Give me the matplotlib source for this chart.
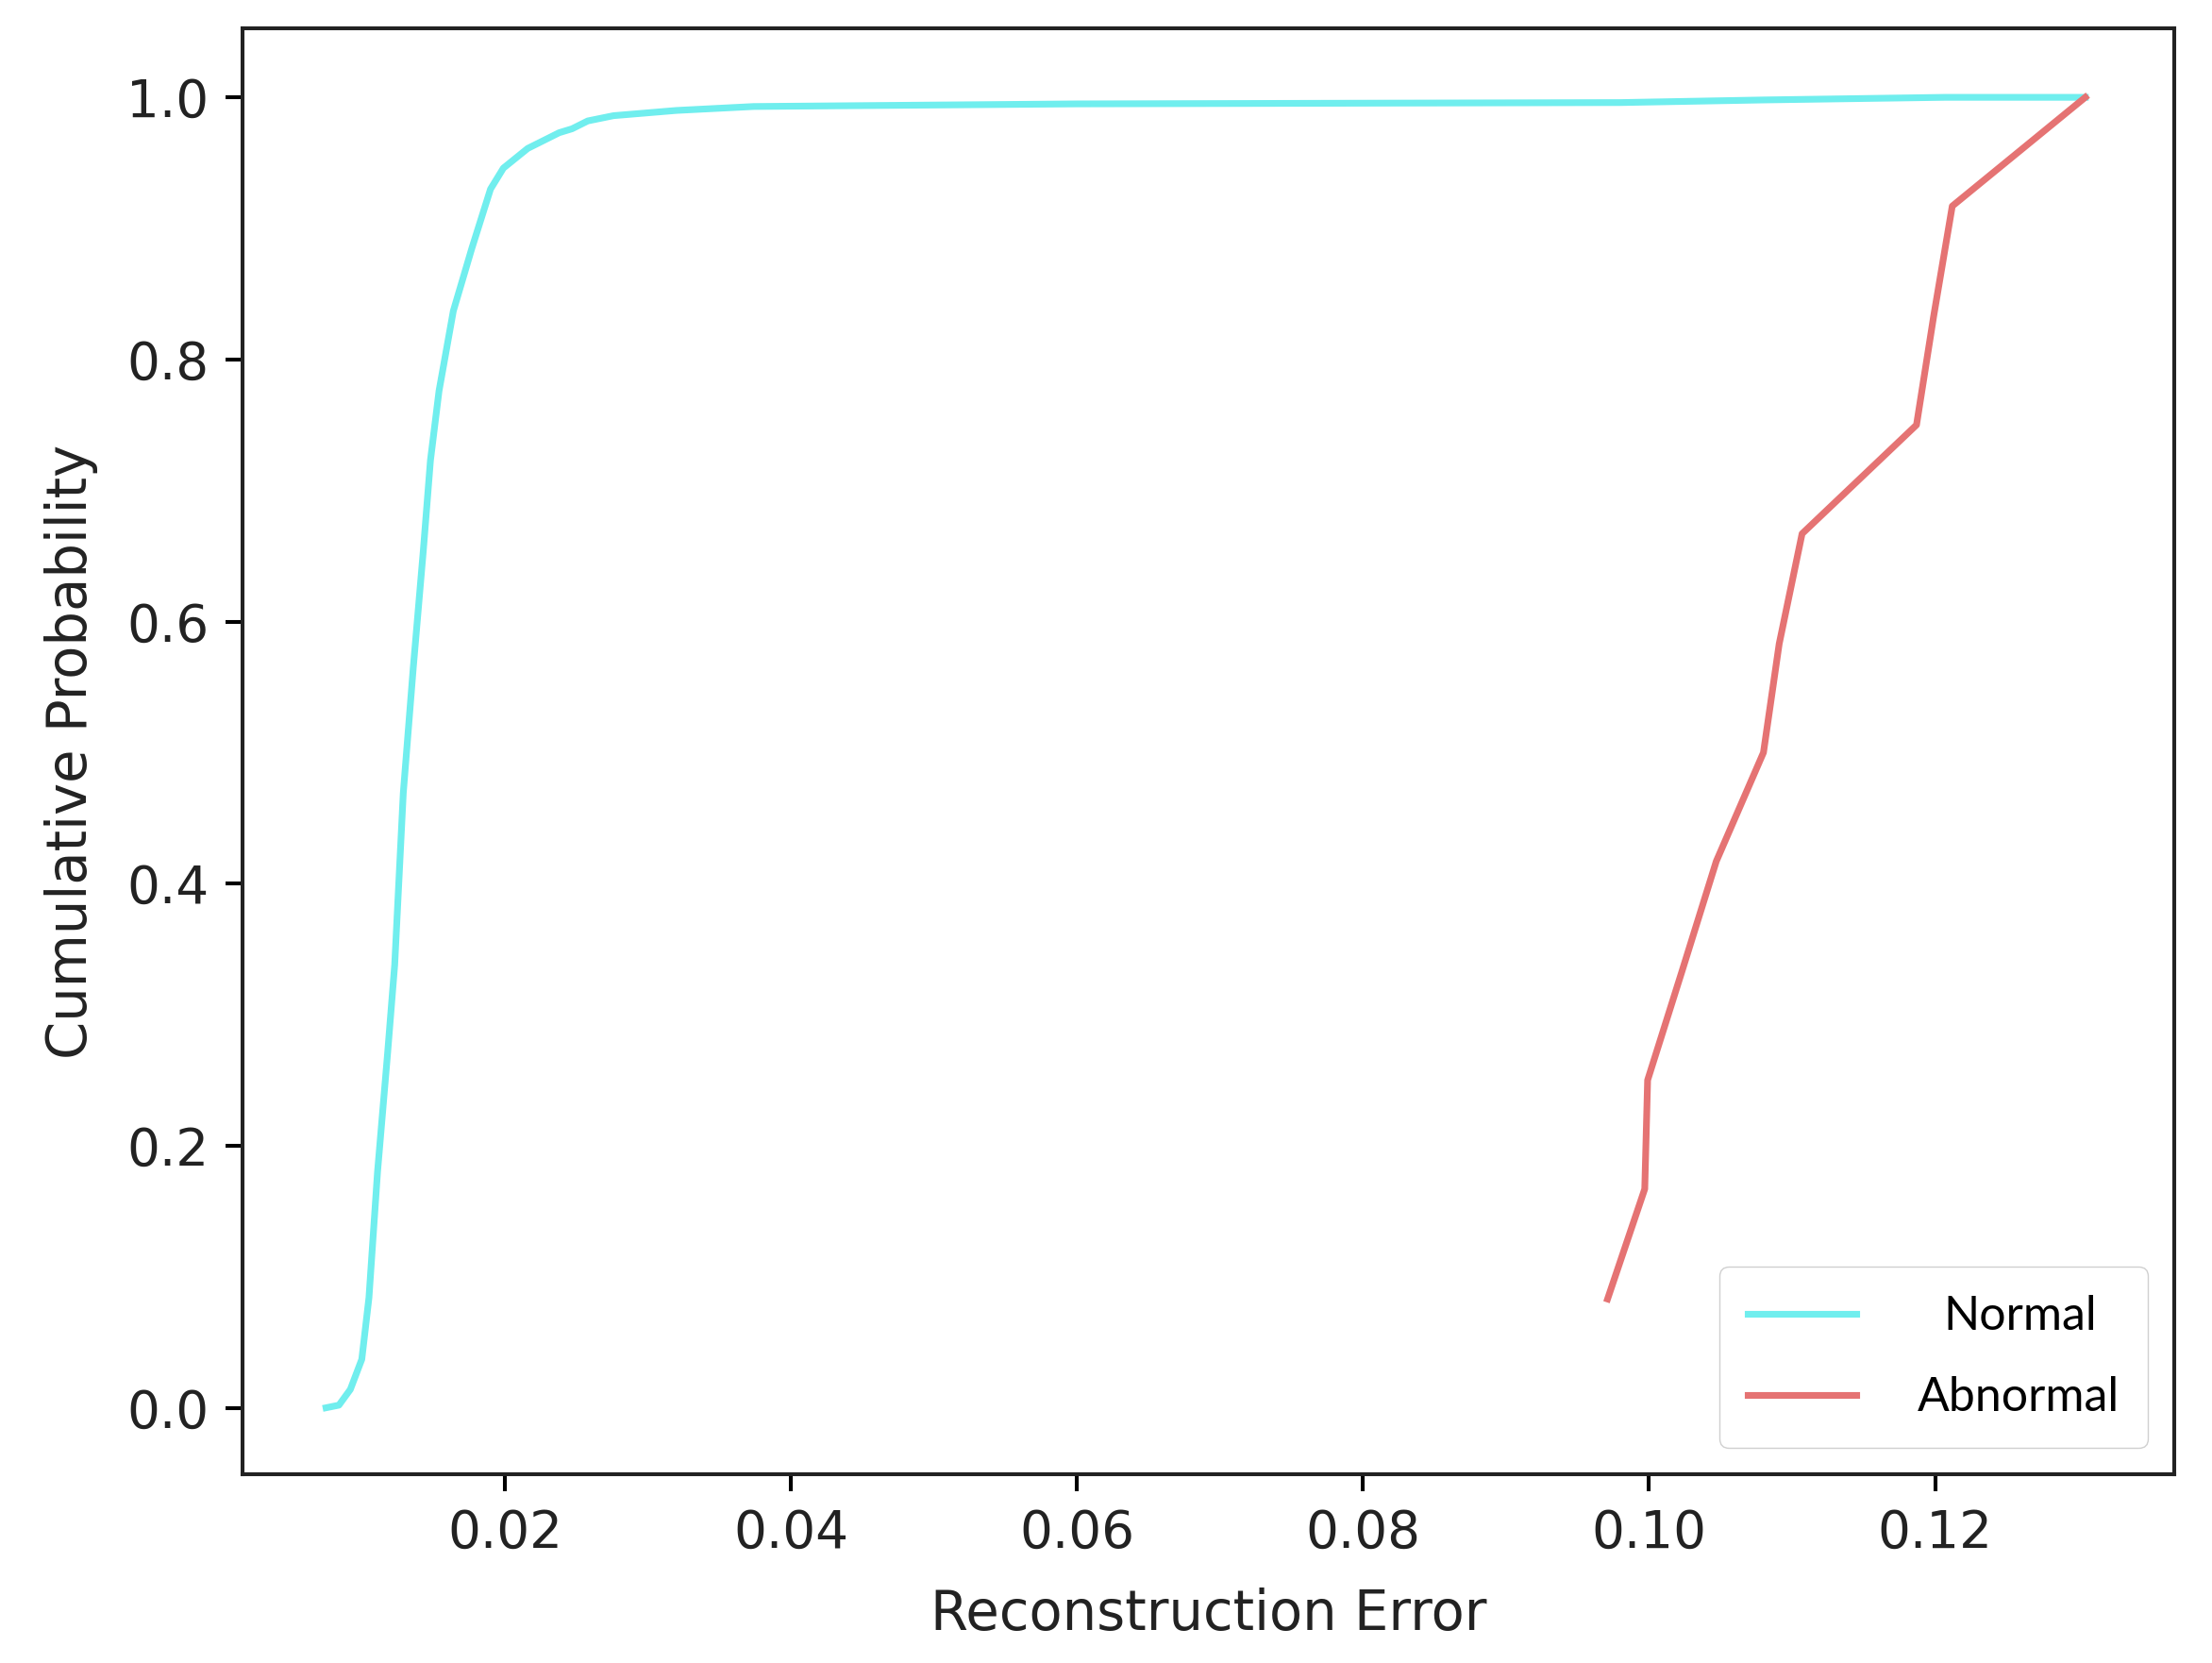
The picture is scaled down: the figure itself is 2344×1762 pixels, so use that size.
import matplotlib
matplotlib.use("Agg")
import matplotlib.pyplot as plt

# values
normal_err = [0.0075, 0.0084, 0.0092, 0.0100, 0.0105, 0.0111, 0.0118, 0.0123,
              0.0129, 0.0136, 0.0143, 0.0148, 0.0154, 0.0164, 0.0177, 0.0190,
              0.0199, 0.0216, 0.0238, 0.0247, 0.0258, 0.0276, 0.0320, 0.0374,
              0.0600, 0.0980, 0.1080, 0.1207, 0.1305]
normal_cdf = [0.000, 0.002, 0.014, 0.037, 0.084, 0.180, 0.270, 0.338,
              0.469, 0.565, 0.654, 0.723, 0.776, 0.837, 0.885, 0.930,
              0.946, 0.961, 0.973, 0.976, 0.982, 0.986, 0.990, 0.993,
              0.995, 0.996, 0.998, 1.000, 1.000]

abnormal_err = [0.0971, 0.0997, 0.0999, 0.1023, 0.1047, 0.1080,
                0.1091, 0.1107, 0.1187, 0.1199, 0.1212, 0.1305]
abnormal_cdf = [0.083, 0.167, 0.250, 0.333, 0.417, 0.500,
                0.583, 0.667, 0.750, 0.833, 0.917, 1.000]

labels = ["Normal", "Abnormal"]

s = 3.66  # scale of the original default figure
plt.rcParams['font.size'] = 39.5
plt.rcParams['axes.linewidth'] = 0.8 * s

fig = plt.figure(figsize=(23.44, 17.62), dpi=100)
ax = fig.add_axes([0.1097, 0.1136, 0.8731, 0.8694])

ax.plot(normal_err, normal_cdf, color='#70eeee', lw=1.4 * s, label=labels[0])
ax.plot(abnormal_err, abnormal_cdf, color='#e57373', lw=1.4 * s, label=labels[1])

ax.set_xlim(0.00167, 0.1367)
ax.set_ylim(-0.0506, 1.0527)
ax.set_xticks([0.02, 0.04, 0.06, 0.08, 0.10, 0.12])
ax.set_yticks([0.0, 0.2, 0.4, 0.6, 0.8, 1.0])
ax.tick_params(length=3.5 * s, width=0.8 * s, pad=3.5 * s, labelcolor='#222222')
for sp in ax.spines.values():
    sp.set_color('#222222')

ax.set_xlabel("Reconstruction Error", fontsize=41.5, labelpad=22, color='#222222')
ax.set_ylabel("Cumulative Probability", fontsize=41.5, labelpad=22, color='#222222')

leg = ax.legend(loc='lower right', prop={'family': 'Lato', 'size': 36},
                handlelength=2.3, handletextpad=1.3, borderpad=0.6,
                labelspacing=0.8, borderaxespad=0.55, fancybox=True,
                framealpha=1.0, edgecolor='#d0d0d0')
for h in leg.get_lines():
    h.set_linewidth(1.4 * s)
# nudge "Normal" right so both labels sit centred like the reference
leg.get_texts()[0].set_position((27, 0))

fig.savefig("out.png", dpi=100)
